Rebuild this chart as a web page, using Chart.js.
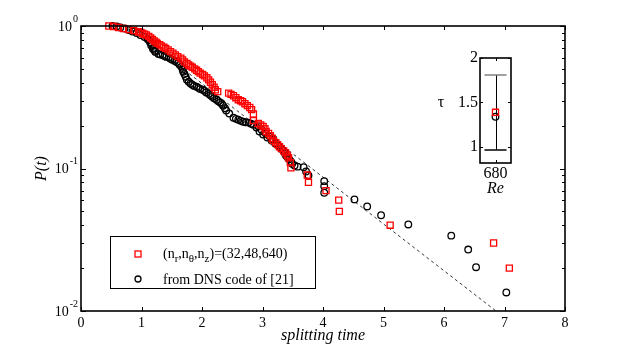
<!DOCTYPE html>
<html><head><meta charset="utf-8">
<script src="https://cdn.jsdelivr.net/npm/chart.js@4.4.1/dist/chart.umd.min.js"></script>
<style>
html,body{margin:0;padding:0;background:#fff;}
#wrap{position:relative;width:623px;height:351px;overflow:hidden;}
#main{position:absolute;left:0;top:0;}
#inset{position:absolute;left:420px;top:40px;}
</style></head><body>
<div id="wrap">
<canvas id="main" width="623" height="351"></canvas>
<canvas id="inset" width="110" height="170"></canvas>
</div>
<script>
// ---------- data ----------
const xTicks = [0,1,2,3,4,5,6,7,8];
const yMajor = [1,0.1,0.01];
const yMajorLabels = [['10','0'],['10','-1'],['10','-2']];
const xTitle = 'splitting time';
const yTitle = 'P(t)';
const legendLabels = ['(n_r,n_θ,n_z)=(32,48,640)', 'from DNS code of [21]'];

const redT = [0.46,0.54,0.62,0.70,0.79,0.87,0.95,0.99,1.02,1.05,1.08,1.12,1.15,1.18,1.21,1.24,1.26,1.30,1.33,1.37,1.40,1.44,1.48,1.52,1.56,1.60,1.65,1.68,1.71,1.75,1.78,1.81,1.84,1.88,1.91,1.94,1.97,2.01,2.04,2.08,2.11,2.14,2.17,2.20,2.22,2.26,2.44,2.48,2.52,2.56,2.60,2.64,2.67,2.71,2.75,2.79,2.82,2.85,2.85,2.93,2.97,3.01,3.04,3.06,3.10,3.13,3.16,3.18,3.22,3.25,3.28,3.31,3.35,3.38,3.41,3.43,3.46,3.47,3.74,3.76,4.05,4.26,4.27,5.11,6.82,7.08];
const redP = [1.0,0.992,0.976,0.960,0.945,0.930,0.912,0.900,0.886,0.875,0.865,0.845,0.824,0.805,0.785,0.770,0.755,0.740,0.725,0.710,0.696,0.680,0.661,0.645,0.627,0.610,0.595,0.578,0.560,0.546,0.533,0.523,0.513,0.500,0.489,0.478,0.467,0.457,0.447,0.433,0.419,0.403,0.387,0.372,0.357,0.346,0.338,0.331,0.324,0.314,0.304,0.299,0.294,0.285,0.276,0.268,0.259,0.241,0.217,0.207,0.202,0.197,0.190,0.182,0.176,0.170,0.163,0.157,0.152,0.147,0.142,0.138,0.133,0.129,0.124,0.119,0.110,0.101,0.09,0.08,0.07,0.06,0.05,0.04,0.03,0.02];

const blkT = [0.52,0.59,0.65,0.72,0.79,0.85,0.92,0.98,1.05,1.10,1.12,1.14,1.16,1.17,1.19,1.20,1.22,1.23,1.28,1.31,1.35,1.38,1.41,1.45,1.48,1.51,1.55,1.58,1.61,1.63,1.66,1.68,1.69,1.71,1.73,1.75,1.78,1.81,1.84,1.87,1.91,1.94,1.97,2.01,2.04,2.07,2.11,2.14,2.17,2.20,2.24,2.27,2.30,2.33,2.35,2.38,2.40,2.45,2.52,2.56,2.60,2.64,2.68,2.72,2.77,2.81,2.85,2.90,2.93,2.95,2.98,3.01,3.05,3.08,3.11,3.15,3.18,3.21,3.25,3.28,3.31,3.34,3.37,3.39,3.42,3.44,3.47,3.49,3.53,3.58,3.68,3.72,3.76,4.02,4.02,4.02,4.52,4.73,4.96,5.41,6.12,6.40,6.53,7.03];
const blkP = [1.0,0.992,0.976,0.960,0.938,0.915,0.893,0.865,0.838,0.810,0.798,0.770,0.730,0.748,0.690,0.702,0.670,0.658,0.637,0.630,0.627,0.615,0.607,0.600,0.588,0.580,0.569,0.560,0.551,0.535,0.517,0.495,0.477,0.460,0.440,0.420,0.406,0.395,0.387,0.380,0.375,0.368,0.362,0.357,0.351,0.342,0.334,0.326,0.319,0.311,0.304,0.297,0.290,0.283,0.276,0.265,0.255,0.243,0.227,0.223,0.220,0.216,0.213,0.211,0.210,0.206,0.203,0.194,0.198,0.182,0.188,0.173,0.177,0.165,0.169,0.157,0.161,0.150,0.146,0.143,0.138,0.134,0.128,0.123,0.119,0.116,0.112,0.108,0.105,0.103,0.102,0.0953,0.0893,0.0815,0.0752,0.0676,0.0607,0.0542,0.047,0.0405,0.0338,0.027,0.0203,0.0135];

const fitT = [0.77, 6.86];
const fitP = [1.0, 0.01];

// inset
const insetRe = ['680'];
const tauRed = [1.39];
const tauBlk = [1.34];
const tauLow = [0.97];
const tauHigh = [1.81];
const insetYTicks = [1, 1.5, 2];

// ---------- helpers ----------
const pts = (xs, ys) => xs.map((v,i)=>({x:v, y:ys[i]}));
const SERIF = '"Liberation Serif","Times New Roman",serif';
function line(ctx,x1,y1,x2,y2){ctx.beginPath();ctx.moveTo(x1,y1);ctx.lineTo(x2,y2);ctx.stroke();}

function drawSubText(ctx, str, x, y, size){
  let cx = x;
  for(let i=0;i<str.length;i++){
    let ch = str[i];
    if(ch==='_' && i+1<str.length){
      ctx.font = (size-3)+'px '+SERIF;
      ctx.fillText(str[i+1], cx, y+5);
      cx += ctx.measureText(str[i+1]).width;
      i++;
    } else {
      ctx.font = size+'px '+SERIF;
      ctx.fillText(ch, cx, y);
      cx += ctx.measureText(ch).width;
    }
  }
}

const mainDeco = {
  id:'mainDeco',
  afterDraw(chart){
    const {ctx, chartArea:a, scales:{x,y}} = chart;
    ctx.save();
    ctx.strokeStyle='#000'; ctx.fillStyle='#000';
    ctx.lineWidth=1;
    xTicks.forEach(v=>{
      const px = Math.round(x.getPixelForValue(v))+0.5;
      line(ctx,px,a.bottom,px,a.bottom-4);
      line(ctx,px,a.top,px,a.top+4);
    });
    for(let d=-2; d<=0; d++){
      for(let m=1;m<=9;m++){
        const v = m*Math.pow(10,d);
        if(v>1.0001) break;
        const py = Math.round(y.getPixelForValue(v))+0.5;
        const len = (m===1)?5:3;
        line(ctx,a.left,py,a.left+len,py);
        line(ctx,a.right,py,a.right-len,py);
      }
    }
    ctx.lineWidth=1.6;
    ctx.strokeRect(a.left, a.top, a.right-a.left, a.bottom-a.top);
    ctx.font='14px '+SERIF; ctx.textAlign='center'; ctx.textBaseline='top';
    xTicks.forEach(v=>ctx.fillText(String(v), x.getPixelForValue(v), a.bottom+5));
    yMajor.forEach((v,i)=>{
      const py = y.getPixelForValue(v);
      const [base, ex] = yMajorLabels[i];
      ctx.textBaseline='middle'; ctx.textAlign='right';
      ctx.font='10px '+SERIF;
      const ew = ctx.measureText(ex).width;
      ctx.fillText(ex, a.left-3, py-7);
      ctx.font='14px '+SERIF;
      ctx.fillText(base, a.left-4-ew, py+1);
    });
    ctx.font='italic 16px '+SERIF; ctx.textAlign='center'; ctx.textBaseline='alphabetic';
    ctx.fillText(xTitle, (a.left+a.right)/2, 340);
    ctx.save();
    ctx.translate(42, (a.top+a.bottom)/2);
    ctx.rotate(-Math.PI/2);
    ctx.textBaseline='middle';
    ctx.fillText(yTitle, 0, 0);
    ctx.restore();
    // legend
    ctx.lineWidth=1;
    ctx.fillStyle='#fff';
    ctx.fillRect(110.5,236.5,205,52);
    ctx.strokeStyle='#000';
    ctx.strokeRect(110.5,236.5,205,52);
    ctx.strokeStyle='#ff0000'; ctx.lineWidth=1.3;
    ctx.strokeRect(135,251,6,6);
    ctx.strokeStyle='#000';
    ctx.beginPath(); ctx.arc(138,279,3,0,Math.PI*2); ctx.stroke();
    ctx.fillStyle='#000'; ctx.textAlign='left'; ctx.textBaseline='middle';
    drawSubText(ctx, legendLabels[0], 163, 254, 14);
    ctx.font='14px '+SERIF;
    ctx.fillText(legendLabels[1], 163, 280);
    ctx.restore();
  }
};

new Chart(document.getElementById('main'), {
  type:'scatter',
  data:{datasets:[
    {label:'red', data:pts(redT,redP), pointStyle:'rect', pointRadius:4.3, borderColor:'#ff0000', backgroundColor:'rgba(0,0,0,0)', pointBorderWidth:1.3, showLine:false, clip:false},
    {label:'dns', data:pts(blkT,blkP), pointStyle:'circle', pointRadius:3.3, borderColor:'#000', backgroundColor:'rgba(0,0,0,0)', pointBorderWidth:1.3, showLine:false, clip:false},
    {label:'fit', data:pts(fitT,fitP), showLine:true, pointRadius:0, borderColor:'#000', borderWidth:0.8, borderDash:[3,3]}
  ]},
  options:{
    responsive:false, animation:false, devicePixelRatio:1, events:[],
    layout:{padding:{left:81, top:26, right:58, bottom:40}},
    plugins:{legend:{display:false}, tooltip:{enabled:false}},
    scales:{
      x:{type:'linear', min:0, max:8, display:false},
      y:{type:'logarithmic', min:0.01, max:1, display:false}
    }
  },
  plugins:[mainDeco]
});

const insetDeco = {
  id:'insetDeco',
  beforeDatasetsDraw(chart){
    const {ctx, scales:{x,y}} = chart;
    ctx.save();
    const cx = x.getPixelForValue(0);
    const yt = y.getPixelForValue(tauHigh[0]);
    const yb = y.getPixelForValue(tauLow[0]);
    ctx.lineWidth=1; ctx.strokeStyle='#000';
    line(ctx, Math.round(cx)+0.5, yt, Math.round(cx)+0.5, yb);
    ctx.lineWidth=1.5;
    ctx.strokeStyle='#808080';
    line(ctx, cx-11, Math.round(yt), cx+11, Math.round(yt));
    ctx.strokeStyle='#000';
    line(ctx, cx-11, Math.round(yb), cx+11, Math.round(yb));
    ctx.restore();
  },
  afterDraw(chart){
    const {ctx, chartArea:a, scales:{x,y}} = chart;
    ctx.save();
    ctx.strokeStyle='#000'; ctx.fillStyle='#000'; ctx.lineWidth=1;
    insetYTicks.forEach(v=>{
      const py = Math.round(y.getPixelForValue(v))+0.5;
      line(ctx,a.left,py,a.left+3,py);
      line(ctx,a.right,py,a.right-3,py);
    });
    const cx = Math.round(x.getPixelForValue(0))+0.5;
    line(ctx,cx,a.top,cx,a.top+3);
    line(ctx,cx,a.bottom,cx,a.bottom-3);
    ctx.lineWidth=1.6;
    ctx.strokeRect(a.left,a.top,a.right-a.left,a.bottom-a.top);
    ctx.font='16px '+SERIF; ctx.textAlign='right'; ctx.textBaseline='middle';
    insetYTicks.forEach(v=>ctx.fillText(String(v), a.left-2, y.getPixelForValue(v)));
    ctx.textAlign='center'; ctx.textBaseline='top';
    ctx.fillText(insetRe[0], x.getPixelForValue(0), a.bottom+3);
    ctx.font='italic 16px '+SERIF;
    ctx.fillText('Re', x.getPixelForValue(0), a.bottom+18);
    ctx.font='16px '+SERIF; ctx.textBaseline='middle';
    ctx.fillText('τ', 21, (a.top+a.bottom)/2 - 8);
    ctx.restore();
  }
};

new Chart(document.getElementById('inset'), {
  type:'scatter',
  data:{datasets:[
    {label:'red', data:[{x:0,y:tauRed[0]}], pointStyle:'rect', pointRadius:4.3, borderColor:'#ff0000', backgroundColor:'rgba(0,0,0,0)', pointBorderWidth:1.3, clip:false},
    {label:'dns', data:[{x:0,y:tauBlk[0]}], pointStyle:'circle', pointRadius:3.3, borderColor:'#000', backgroundColor:'rgba(0,0,0,0)', pointBorderWidth:1.3, clip:false}
  ]},
  options:{
    responsive:false, animation:false, devicePixelRatio:1, events:[],
    layout:{padding:{left:60, top:18, right:19, bottom:47}},
    plugins:{legend:{display:false}, tooltip:{enabled:false}},
    scales:{
      x:{type:'linear', min:-1, max:1, display:false},
      y:{type:'linear', min:0.82, max:2, display:false}
    }
  },
  plugins:[insetDeco]
});
</script>
</body></html>
